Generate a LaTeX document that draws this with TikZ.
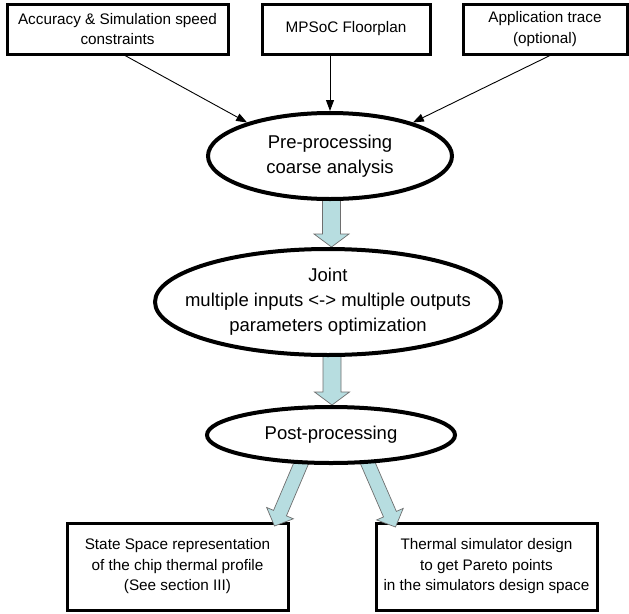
\documentclass[tikz,border=0pt]{standalone}
\usepackage{fontspec}
\setmainfont{Liberation Sans}
\usetikzlibrary{shapes.geometric,calc,arrows.meta,backgrounds}
\definecolor{arrowfill}{RGB}{183,221,224}
\definecolor{arrowedge}{RGB}{110,110,110}
\tikzset{
  inbox/.style={draw=black, line width=3pt, fill=white, inner sep=0pt, align=center,
    font=\fontsize{15.3}{20.5}\selectfont},
  oval/.style={ellipse, draw=black, line width=4pt, fill=white, inner sep=0pt},
  ovaltext/.style={align=center, inner sep=0pt, font=\fontsize{18.5}{25}\selectfont},
  thinarrow/.style={line width=0.9pt, -{Triangle[length=11pt,width=8pt]}},
  barrow/.style={draw=arrowedge, line width=0.7pt, fill=arrowfill, line join=miter},
}
% #1 from, #2 to, #3 half shaft width, #4 half head width, #5 head length
\newcommand\blockarrow[5]{%
  \coordinate (hb) at ($(#2)!#5!(#1)$);
  \draw[barrow] ($(#1)!#3!90:(#2)$) -- ($(hb)!#3!-90:(#1)$) -- ($(hb)!#4!-90:(#1)$)
    -- (#2) -- ($(hb)!#4!90:(#1)$) -- ($(hb)!#3!90:(#1)$) -- ($(#1)!#3!-90:(#2)$) -- cycle;
}
\begin{document}
\begin{tikzpicture}[x=1pt,y=-1pt]
\useasboundingbox (0,0) rectangle (629,613);
% top boxes
\node[inbox, minimum width=221pt, minimum height=50pt] (b1) at (117.5,29) {Accuracy \& Simulation speed\\constraints};
\node[inbox, minimum width=168pt, minimum height=50pt] (b2) at (346,29) {MPSoC Floorplan};
\node[inbox, minimum width=164pt, minimum height=50pt] (b3) at (545,29) {Application trace\\(optional)};
% ellipses
\node[oval, minimum width=244pt, minimum height=86pt] (e1) at (330,156) {};
\node[ovaltext] at (e1.center) {Pre-processing\\coarse analysis};
\node[oval, minimum width=346pt, minimum height=106pt] (e2) at (328,302) {};
\node[ovaltext] at (e2.center) {Joint\\multiple inputs <-> multiple outputs\\parameters optimization};
\node[oval, minimum width=248pt, minimum height=56pt] (e3) at (331,435) {};
\node[ovaltext] at (e3.center) {Post-processing};
% thin arrows
\coordinate (s1) at ($(b1.south)+(7.5,0)$);
\coordinate (s2) at ($(b2.south)+(-16,0)$);
\coordinate (s3) at ($(b3.south)+(5,0)$);
\draw[thinarrow] (s1) -- (e1.158);
\draw[thinarrow] (s2) -- (e1.north);
\draw[thinarrow] (s3) -- (e1.22);
\begin{pgfonlayer}{background}
\node[inbox, minimum width=221pt, minimum height=87pt] (b4) at (177.5,566.5) {State Space representation\\of the chip thermal profile\\(See section III)};
\node[inbox, minimum width=221pt, minimum height=87pt] (b5) at (486.5,566.5) {Thermal simulator design\\to get Pareto points\\in the simulators design space};
\coordinate (a1s) at ($(e1.south)+(1.5,-4)$);
\coordinate (a1t) at ($(e2.north)+(3.5,0)$);
\blockarrow{a1s}{a1t}{9pt}{17.5pt}{13pt}
\coordinate (a2s) at ($(e2.south)+(4,-4)$);
\coordinate (a2t) at ($(e3.north)+(1,0)$);
\blockarrow{a2s}{a2t}{9pt}{17.5pt}{13pt}
\coordinate (a3s) at ($(e3.south)+(-28,-6)$);
\coordinate (a3t) at ($(b4.north east)+(-15,4.5)$);
\blockarrow{a3s}{a3t}{7pt}{14.5pt}{14pt}
\coordinate (a4s) at ($(e3.south)+(35,-6)$);
\coordinate (a4t) at ($(b5.north west)+(21,5.5)$);
\blockarrow{a4s}{a4t}{7pt}{14.5pt}{14pt}
\end{pgfonlayer}
\end{tikzpicture}
\end{document}
